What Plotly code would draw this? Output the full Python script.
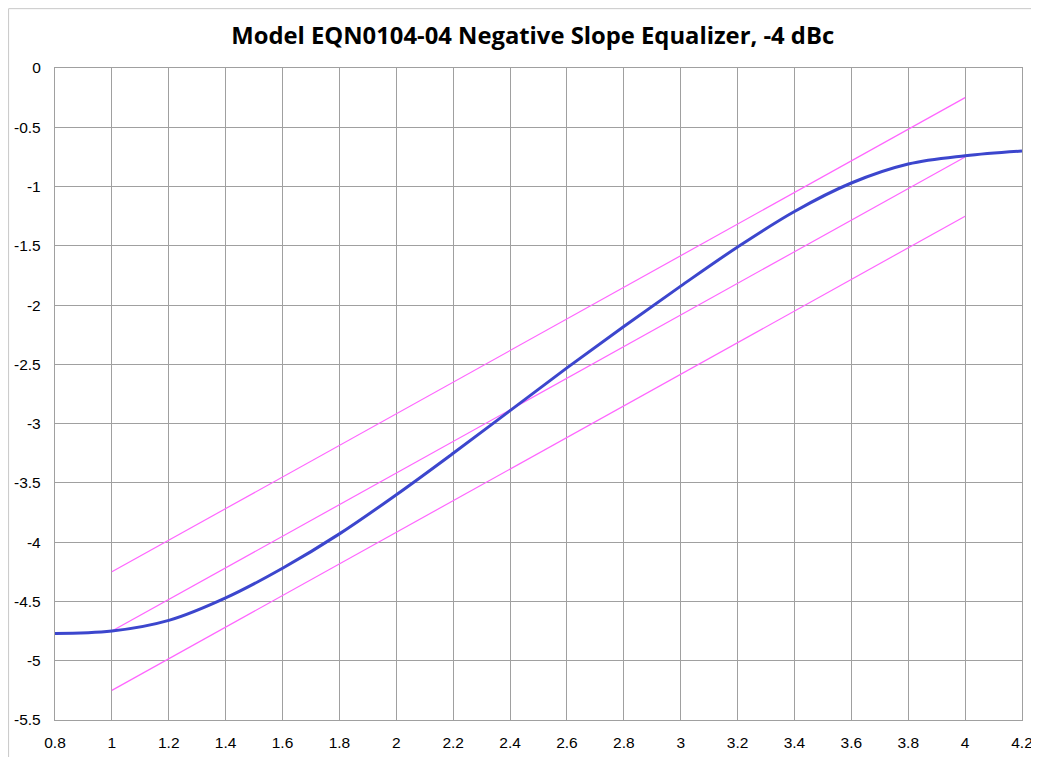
import plotly.graph_objects as go

# Measured response (blue curve)
freq = [0.8, 1.0, 1.2, 1.4, 1.6, 1.8, 2.0, 2.2, 2.4, 2.6, 2.8, 3.0, 3.2, 3.4, 3.6, 3.8, 4.0, 4.2]
resp = [-4.77, -4.75, -4.66, -4.47, -4.22, -3.93, -3.60, -3.25, -2.89, -2.53, -2.18, -1.84, -1.51, -1.21, -0.97, -0.81, -0.74, -0.70]

# Limit lines (magenta)
lim_x = [1.0, 4.0]
lim_upper = [-4.25, -0.25]
lim_nom = [-4.75, -0.75]
lim_lower = [-5.25, -1.25]

x_ticks = [0.8, 1.0, 1.2, 1.4, 1.6, 1.8, 2.0, 2.2, 2.4, 2.6, 2.8, 3.0, 3.2, 3.4, 3.6, 3.8, 4.0, 4.2]
x_ticktext = ["0.8", "1", "1.2", "1.4", "1.6", "1.8", "2", "2.2", "2.4", "2.6", "2.8", "3", "3.2", "3.4", "3.6", "3.8", "4", "4.2"]
y_ticks = [0, -0.5, -1, -1.5, -2, -2.5, -3, -3.5, -4, -4.5, -5, -5.5]
y_ticktext = ["0", "-0.5", "-1", "-1.5", "-2", "-2.5", "-3", "-3.5", "-4", "-4.5", "-5", "-5.5"]

title = "Model EQN0104-04 Negative Slope Equalizer, -4 dBc"

fig = go.Figure()
for ys in (lim_upper, lim_nom, lim_lower):
    fig.add_trace(go.Scatter(x=lim_x, y=ys, mode="lines",
                             line=dict(color="#FF66FF", width=1.2),
                             showlegend=False, hoverinfo="skip"))
fig.add_trace(go.Scatter(x=freq, y=resp, mode="lines",
                         line=dict(color="#3C46CD", width=3, shape="spline", smoothing=1.0),
                         showlegend=False))

axis_common = dict(showgrid=True, gridcolor="#A0A0A0", gridwidth=1.3,
                   showline=True, linecolor="#A0A0A0", linewidth=1.3, mirror=True,
                   zeroline=False, ticks="", automargin=False,
                   tickfont=dict(family="Liberation Sans, Arial, sans-serif", size=15.5, color="#000000"))

fig.update_layout(
    width=1039, height=757,
    margin=dict(l=47, r=25, t=60, b=45),
    paper_bgcolor="white", plot_bgcolor="white",
    title=dict(text="<b>" + title + "</b>", x=0.505, xanchor="center", y=0.964, yanchor="middle",
               font=dict(family="Open Sans, Liberation Sans, sans-serif", size=23.8, color="#000000")),
    xaxis=dict(range=[0.8, 4.2], tickvals=x_ticks, ticktext=x_ticktext, ticklabelstandoff=8, **axis_common),
    yaxis=dict(range=[-5.5, 0], tickvals=y_ticks, ticktext=y_ticktext, ticklabelstandoff=10, **axis_common),
    shapes=[dict(type="line", xref="paper", yref="paper", x0=-0.048, x1=-0.048, y0=-0.08, y1=1.091,
                 line=dict(color="#C8C8C8", width=1)),
            dict(type="line", xref="paper", yref="paper", x0=-0.048, x1=1.03, y0=1.091, y1=1.091,
                 line=dict(color="#C8C8C8", width=1))],
)

fig.write_html("out.html")
